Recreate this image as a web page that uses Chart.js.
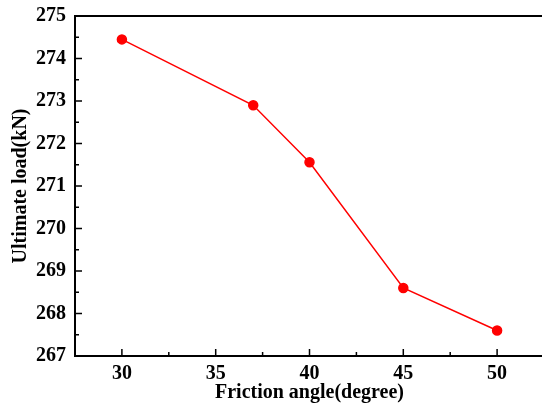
<!DOCTYPE html>
<html>
<head>
<meta charset="utf-8">
<script src="https://cdn.jsdelivr.net/npm/chart.js@4/dist/chart.umd.min.js"></script>
<style>
  html, body { margin: 0; padding: 0; background: #fff; overflow: hidden; }
  #wrap { width: 550px; height: 410px; margin-top: -5px; }
</style>
</head>
<body>
<div id="wrap"><canvas id="chart"></canvas></div>
<script>
// Data
var frictionAngle = [30, 37, 40, 45, 50];
var ultimateLoad = [274.45, 272.9, 271.56, 268.6, 267.6];
var xTicks = [30, 35, 40, 45, 50];
var yTicks = [267, 268, 269, 270, 271, 272, 273, 274, 275];

// Inward major and minor ticks plus the top frame line
var frameTicks = {
    id: 'frameTicks',
    afterDraw: function(chart) {
        var ctx = chart.ctx;
        var area = chart.chartArea;
        var xs = chart.scales.x;
        var ys = chart.scales.y;
        ctx.save();
        ctx.strokeStyle = '#000';
        ctx.lineWidth = 1.5;
        ctx.beginPath();
        // x ticks
        for (var v = 27.5; v <= 52.5; v += 2.5) {
            var px = xs.getPixelForValue(v);
            if (px < area.left + 1 || px > area.right - 1) continue;
            var len = (v % 5 === 0) ? 7 : 4;
            ctx.moveTo(px, area.bottom);
            ctx.lineTo(px, area.bottom - len);
        }
        // y ticks
        for (var w = 267; w <= 275; w += 0.5) {
            var py = ys.getPixelForValue(w);
            var len2 = (w % 1 === 0) ? 7 : 4;
            ctx.moveTo(area.left, py);
            ctx.lineTo(area.left + len2, py);
        }
        ctx.stroke();
        // top line
        ctx.lineWidth = 2;
        ctx.beginPath();
        ctx.moveTo(area.left, area.top);
        ctx.lineTo(area.right, area.top);
        ctx.stroke();
        ctx.restore();
    }
};

var tickFont = { family: 'Liberation Serif', size: 20, weight: 'bold' };
var titleFont = { family: 'Liberation Serif', size: 20, weight: 'bold' };

new Chart(document.getElementById('chart'), {
    type: 'line',
    data: {
        datasets: [{
            data: frictionAngle.map(function(a, i) { return { x: a, y: ultimateLoad[i] }; }),
            borderColor: '#ff0000',
            backgroundColor: '#ff0000',
            borderWidth: 1.5,
            pointRadius: 4.5,
            pointHoverRadius: 4.5,
            tension: 0
        }]
    },
    plugins: [frameTicks],
    options: {
        responsive: true,
        maintainAspectRatio: false,
        animation: false,
        layout: { padding: { top: 10, right: 0, left: 0, bottom: 0 } },
        plugins: { legend: { display: false }, tooltip: { enabled: false } },
        scales: {
            x: {
                type: 'linear',
                min: 27.5,
                max: 52.5,
                afterBuildTicks: function(scale) {
                    scale.ticks = xTicks.map(function(v) { return { value: v }; });
                },
                afterFit: function(scale) { scale.height = 49; },
                grid: { display: true, drawOnChartArea: false, drawTicks: false },
                border: { display: true, color: '#000', width: 2 },
                ticks: { color: '#000', font: tickFont, padding: 6, maxRotation: 0 },
                title: {
                    display: true,
                    text: 'Friction angle(degree)',
                    color: '#000',
                    font: titleFont,
                    padding: { top: 0, bottom: 0 }
                }
            },
            y: {
                type: 'linear',
                min: 267,
                max: 275,
                afterBuildTicks: function(scale) {
                    scale.ticks = yTicks.map(function(v) { return { value: v }; });
                },
                afterFit: function(scale) { scale.width = 75; },
                grid: { display: true, drawOnChartArea: false, drawTicks: false },
                border: { display: true, color: '#000', width: 2 },
                ticks: { color: '#000', font: tickFont, padding: 9 },
                title: {
                    display: true,
                    text: 'Ultimate load(kN)',
                    color: '#000',
                    font: titleFont,
                    padding: { top: 9, bottom: 2 }
                }
            }
        }
    }
});
</script>
</body>
</html>
